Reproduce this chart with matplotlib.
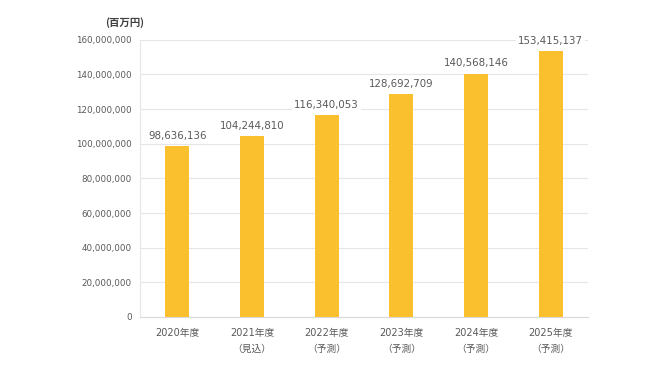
import matplotlib.pyplot as plt
from matplotlib.ticker import FuncFormatter

plt.rcParams["font.family"] = ["DejaVu Sans", "Noto Sans CJK JP"]

years = ["2020年度", "2021年度\n（見込）", "2022年度\n（予測）", "2023年度\n（予測）",
         "2024年度\n（予測）", "2025年度\n（予測）"]
values = [98636136, 104244810, 116340053, 128692709, 140568146, 153415137]
yticks = list(range(0, 160000001, 20000000))

TEXT = "#595959"
GRID = "#e6e6e6"
BAR = "#FBC02D"

fig = plt.figure(figsize=(6.68, 3.76), dpi=100)
ax = fig.add_axes([0.2096, 0.157, 0.6706, 0.737])

x = range(len(years))
ax.bar(x, values, width=0.32, color=BAR, zorder=3)

for xi, v in zip(x, values):
    ax.annotate(f"{v:,}", (xi, v), textcoords="offset points", xytext=(0, 4),
                ha="center", va="bottom", fontsize=7.4, color=TEXT, zorder=4,
                bbox=dict(boxstyle="square,pad=0.2", fc="white", ec="none"))

ax.set_xlim(-0.5, len(years) - 0.5)
ax.set_ylim(0, 160000000)
ax.set_yticks(yticks)
ax.yaxis.set_major_formatter(FuncFormatter(lambda v, p: f"{int(v):,}"))
ax.set_xticks(list(x))
ax.set_xticklabels(years, fontsize=7, linespacing=1.7)
ax.grid(axis="y", color=GRID, linewidth=0.8, zorder=0)

for s in ["top", "right"]:
    ax.spines[s].set_visible(False)
ax.spines["left"].set_color(GRID)
ax.spines["bottom"].set_color("#d9d9d9")
ax.tick_params(axis="both", length=0, colors=TEXT)
ax.tick_params(axis="y", pad=6, labelsize=6.3)
ax.tick_params(axis="x", pad=8)

fig.text(0.157, 0.939, "(百万円)", fontsize=7.5, color="#404040", ha="left", va="center",
         family=["Noto Sans CJK JP"], fontweight="bold")

fig.savefig("out.png", dpi=100)
